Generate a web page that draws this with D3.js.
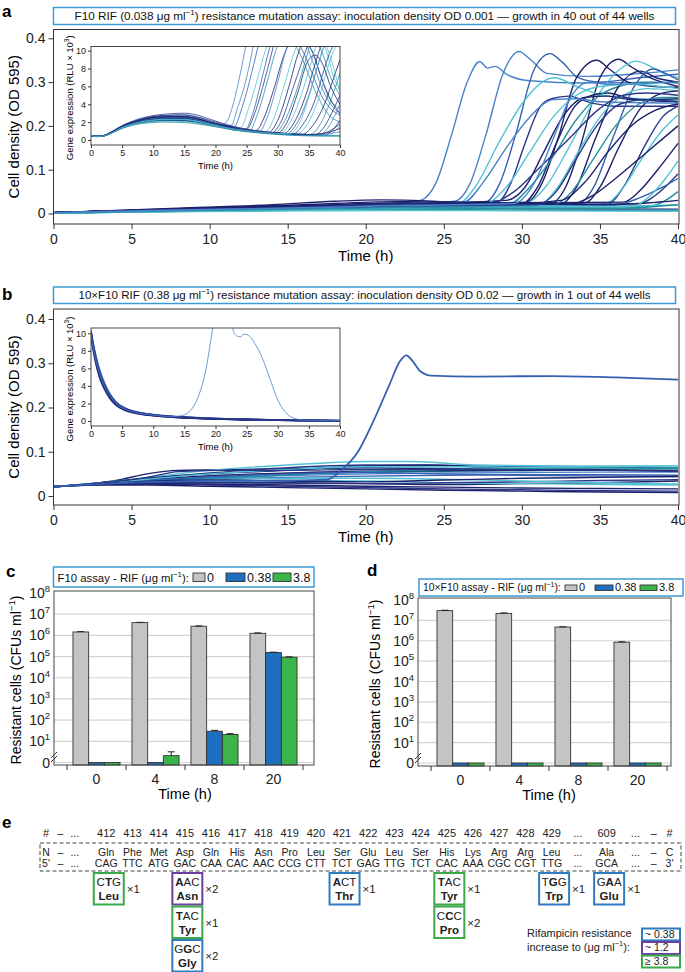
<!DOCTYPE html>
<html>
<head>
<meta charset="utf-8">
<script src="https://cdn.jsdelivr.net/npm/d3@7"></script>
<style>
  body { margin: 0; background: #fff; }
  svg { display: block; font-family: "Liberation Sans", Arial, sans-serif; }
</style>
</head>
<body>
<svg id="fig" width="685" height="972"></svg>
<script>
// ---------------- data ----------------
// well colours (index per well into palette)
const palette = ['#1c216c', '#2a3789', '#3560b0', '#4a82c8', '#52c2d4', '#26909f'];

// a: OD 595 for the F10 assay (t in h, OD)
const growthA = [
  [[0,.002],[8,.008],[16,.016],[22,.024],[23.5,.03],[24.5,.07],[25.5,.18],[26.5,.3],[27.3,.347],[27.8,.332],[28.3,.336],[29,.318],[30.5,.303],[34,.298],[40,.3]],
  [[0,.002],[8,.008],[16,.014],[22,.02],[25.7,.028],[26.7,.07],[27.7,.18],[28.8,.32],[29.8,.37],[30.6,.35],[31.6,.32],[34,.313],[37,.318],[40,.328]],
  [[0,.002],[8,.007],[16,.012],[22,.016],[27.6,.025],[28.6,.07],[29.6,.18],[30.8,.33],[31.8,.365],[32.6,.345],[33.6,.31],[35,.3],[37.5,.31],[40,.318]],
  [[0,.002],[8,.009],[16,.014],[22,.02],[30.3,.026],[31.3,.07],[32.3,.17],[33.5,.31],[34.8,.35],[35.6,.33],[36.8,.3],[38.5,.29],[40,.288]],
  [[0,.002],[8,.008],[16,.012],[22,.016],[31.8,.022],[32.8,.06],[33.8,.16],[35,.31],[36.2,.352],[37,.335],[38.2,.31],[40,.29]],
  [[0,.001],[8,.006],[16,.01],[22,.014],[30,.02],[31.5,.06],[33,.15],[34.5,.25],[36.3,.33],[37.3,.348],[38.4,.333],[39.2,.318],[40,.31]],
  [[0,.001],[8,.006],[16,.011],[22,.016],[25.8,.02],[27,.06],[28.5,.16],[30,.25],[31.3,.3],[32.1,.31],[33.5,.29],[35,.272],[37.5,.262],[40,.258]],
  [[0,.002],[8,.01],[16,.015],[22,.02],[28.5,.028],[29.3,.07],[30.2,.16],[31.2,.245],[31.9,.262],[33,.268],[34.5,.252],[36,.245],[40,.245]],
  [[0,.002],[8,.009],[16,.013],[22,.018],[30,.022],[31,.06],[32.2,.16],[33.4,.245],[34.5,.27],[35.5,.275],[37,.262],[40,.255]],
  [[0,.002],[8,.008],[16,.012],[22,.016],[29.2,.022],[30.5,.06],[32,.13],[33.4,.21],[34.8,.265],[36.2,.29],[38,.3],[40,.298]],
  [[0,.002],[8,.008],[16,.012],[22,.016],[32.5,.022],[33.5,.06],[34.7,.17],[36.2,.29],[37.6,.325],[38.6,.31],[40,.3]],
  [[0,.002],[8,.007],[16,.011],[22,.015],[33.5,.02],[34.6,.06],[35.8,.17],[37.2,.29],[38.4,.33],[39.2,.32],[40,.305]],
  [[0,.001],[8,.006],[16,.01],[22,.013],[31,.018],[32.3,.06],[33.6,.14],[35,.22],[36.5,.27],[38,.285],[40,.28]],
  [[0,.002],[8,.009],[16,.014],[22,.02],[34,.024],[35,.06],[36.2,.15],[37.6,.24],[39,.275],[40,.28]],
  [[0,.002],[8,.008],[16,.013],[22,.017],[35.5,.022],[36.5,.06],[37.8,.15],[39,.22],[40,.245]],
  [[0,.001],[8,.005],[16,.009],[22,.012],[35,.016],[36.3,.05],[37.6,.12],[39,.19],[40,.225]],
  [[0,.002],[8,.01],[16,.016],[22,.022],[36.5,.026],[37.5,.05],[38.7,.1],[40,.16]],
  [[0,.002],[8,.009],[16,.014],[22,.018],[37.5,.022],[38.5,.04],[40,.09]],
  [[0,.001],[8,.006],[16,.01],[22,.013],[38.2,.017],[39.2,.03],[40,.05]],
  [[0,.002],[8,.012],[14,.02],[18,.028],[21,.031],[23,.03],[26,.026],[29,.03],[30.2,.06],[31.4,.14],[32.6,.22],[34,.265],[35.5,.268],[37,.26],[40,.262]],
  [[0,.002],[8,.008],[16,.014],[22,.02],[26.3,.026],[27.5,.07],[29,.15],[30.5,.22],[32,.26],[33.5,.262],[35,.255],[40,.252]],
  [[0,.002],[8,.01],[16,.016],[22,.02],[28,.024],[29.5,.05],[31,.1],[33,.17],[35,.24],[36.5,.27],[38,.275],[40,.27]],
  [[0,.001],[8,.005],[16,.009],[22,.013],[27.5,.02],[29,.06],[30.5,.14],[32,.22],[33.5,.27],[35,.29],[37,.295],[40,.285]],
  [[0,.001],[8,.006],[16,.011],[22,.015],[32,.02],[33.2,.05],[34.5,.12],[36,.2],[37.5,.25],[39,.265],[40,.265]],
  [[0,.002],[8,.009],[16,.013],[22,.017],[33,.02],[34.5,.04],[36,.08],[38,.14],[40,.2]],
  [[0,.002],[8,.008],[16,.012],[22,.016],[36,.02],[37.5,.035],[39,.06],[40,.08]],
  [[0,.002],[8,.011],[16,.018],[22,.024],[30,.022],[35,.02],[38,.024],[40,.03]],
  [[0,.001],[8,.006],[16,.012],[22,.017],[30,.018],[35,.016],[40,.02]],
  [[0,.002],[8,.009],[16,.012],[22,.013],[30,.011],[40,.01]],
  [[0,.001],[8,.005],[16,.008],[22,.009],[30,.008],[40,.007]],
  [[0,.001],[8,.004],[16,.006],[22,.007],[30,.006],[40,.005]],
  [[0,.002],[8,.01],[16,.02],[22,.027],[26,.026],[30,.024],[32.5,.03],[34,.07],[35.5,.14],[37,.2],[38.5,.235],[40,.25]],
  [[0,.002],[8,.009],[16,.013],[22,.017],[31,.02],[32.2,.05],[33.4,.12],[34.8,.2],[36.3,.25],[38,.26],[40,.255]],
  [[0,.001],[8,.005],[16,.009],[22,.012],[37,.015],[38.2,.04],[39.2,.08],[40,.12]],
  [[0,.001],[8,.006],[16,.01],[22,.013],[30,.012],[36,.012],[40,.02]],
  [[0,.002],[8,.008],[16,.013],[22,.018],[29.5,.023],[30.8,.07],[32,.17],[33.2,.27],[34.3,.3],[35.5,.295],[40,.3]]
];
const shadeA = [3,3,2,0,0,4,4,1,0,5,0,2,4,0,1,4,0,1,5,0,3,1,4,5,0,2,0,4,1,5,4,0,1,4,5,3];

// a inset: gene expression (RLU x 10^3)
const exprA = [
  [[0,.5],[1,.4],[2,.48],[3.5,.95],[5,1.5],[7,1.95],[9,2.2],[12,2.35],[15,2.3],[17,2.1],[19,1.85],[21,1.65],[22,2.3],[23.2,5],[24.3,8.5],[25,11]],
  [[0,.5],[1,.4],[2,.47],[3.5,.9],[5,1.4],[7,1.85],[9,2.1],[12,2.2],[15,2.15],[17,2],[19,1.75],[21,1.55],[22.5,1.6],[23.5,3.5],[25,7],[26.2,11]],
  [[0,.52],[1,.4],[2,.5],[3.5,1],[5,1.6],[7,2.1],[9,2.4],[12,2.6],[15,2.6],[17,2.4],[19,2],[21,1.7],[23,1.5],[24.2,3.5],[25.8,7.5],[27,11]],
  [[0,.5],[1,.38],[2,.45],[3.5,.88],[5,1.4],[7,1.9],[9,2.25],[12,2.45],[15,2.4],[17,2.2],[19,1.9],[21,1.6],[23,1.35],[24,1.35],[25.3,3.5],[26.8,7],[28,10],[29,11.5]],
  [[0,.5],[1,.4],[2,.48],[3.5,.95],[5,1.55],[7,2.1],[9,2.5],[12,2.75],[15,2.8],[17,2.6],[19,2.2],[21,1.8],[23,1.45],[25,1.2],[26.3,3],[28,7],[29.3,10.5]],
  [[0,.5],[1,.39],[2,.46],[3.5,.9],[5,1.45],[7,1.9],[9,2.2],[12,2.35],[15,2.3],[17,2.15],[19,1.85],[21,1.55],[23,1.3],[25.5,1.1],[26.7,2.8],[28.3,6.5],[29.7,10],[31,12],[32.5,11],[34,9],[36,5.5],[38,3],[40,2]],
  [[0,.5],[1,.4],[2,.47],[3.5,.9],[5,1.45],[7,1.95],[9,2.3],[12,2.5],[15,2.5],[17,2.3],[19,1.9],[21,1.6],[23,1.3],[26.5,1.05],[27.8,2.5],[29.5,6],[31,9.5],[32,11]],
  [[0,.5],[1,.4],[2,.46],[3.5,.88],[5,1.4],[7,1.85],[9,2.1],[12,2.25],[15,2.2],[17,2.05],[19,1.8],[21,1.5],[23,1.25],[27,.95],[28.3,2.5],[30,6.5],[31.3,10],[32.5,12],[34,11.5],[35.5,9],[37,6],[38.5,4],[40,3]],
  [[0,.51],[1,.4],[2,.48],[3.5,.95],[5,1.5],[7,2.05],[9,2.45],[12,2.65],[15,2.65],[17,2.4],[19,2],[21,1.65],[23,1.35],[28,.9],[29.3,2.3],[31,6],[32.5,9.5],[33.5,11],[35,10.5],[36.5,8],[38,5],[40,3.5]],
  [[0,.5],[1,.38],[2,.45],[3.5,.85],[5,1.35],[7,1.8],[9,2.05],[12,2.2],[15,2.2],[17,2.05],[19,1.75],[21,1.45],[23,1.2],[28.5,.85],[30,2.2],[31.8,6],[33.2,9.5],[34.2,11],[35.5,10],[37,7],[38.5,4.5],[40,3]],
  [[0,.5],[1,.4],[2,.47],[3.5,.92],[5,1.5],[7,2],[9,2.35],[12,2.55],[15,2.55],[17,2.35],[19,1.95],[21,1.6],[23,1.3],[29,.8],[30.5,2],[32.3,5.5],[34,9],[35,11]],
  [[0,.5],[1,.4],[2,.46],[3.5,.9],[5,1.45],[7,1.9],[9,2.2],[12,2.4],[15,2.4],[17,2.2],[19,1.85],[21,1.55],[23,1.25],[29.5,.8],[31,2],[33,5.5],[34.5,9],[35.5,11],[37,10],[38.5,7],[40,5]],
  [[0,.5],[1,.39],[2,.46],[3.5,.88],[5,1.4],[7,1.85],[9,2.15],[12,2.3],[15,2.25],[17,2.1],[19,1.8],[21,1.5],[23,1.2],[30.5,.75],[32,2],[34,5.5],[35.5,9],[36.5,11],[37.5,10.5],[39,7],[40,5.5]],
  [[0,.5],[1,.4],[2,.48],[3.5,.93],[5,1.5],[7,2.05],[9,2.4],[12,2.6],[15,2.6],[17,2.4],[19,2],[21,1.65],[23,1.35],[31,.75],[32.5,1.8],[34.5,5],[36,8.5],[37,10.5],[38,11]],
  [[0,.5],[1,.4],[2,.46],[3.5,.9],[5,1.4],[7,1.85],[9,2.1],[12,2.3],[15,2.3],[17,2.1],[19,1.8],[21,1.5],[23,1.2],[31.5,.7],[33,1.8],[35,5],[36.5,8.5],[37.5,10.5],[38.5,11]],
  [[0,.5],[1,.38],[2,.45],[3.5,.86],[5,1.38],[7,1.82],[9,2.1],[12,2.25],[15,2.2],[17,2.05],[19,1.75],[21,1.45],[23,1.15],[32.5,.7],[34,1.7],[36,4.5],[37.5,8],[38.5,10],[39.5,11]],
  [[0,.5],[1,.4],[2,.47],[3.5,.9],[5,1.45],[7,1.95],[9,2.3],[12,2.45],[15,2.45],[17,2.25],[19,1.9],[21,1.55],[23,1.25],[33,.65],[34.5,1.5],[36.5,4.5],[38,8],[39,10],[40,11]],
  [[0,.5],[1,.4],[2,.47],[3.5,.92],[5,1.5],[7,2],[9,2.35],[12,2.55],[15,2.6],[17,2.4],[19,2],[21,1.65],[23,1.3],[34,.65],[35.5,1.5],[37.5,4],[39,7],[40,9]],
  [[0,.5],[1,.39],[2,.46],[3.5,.88],[5,1.42],[7,1.88],[9,2.18],[12,2.35],[15,2.35],[17,2.15],[19,1.82],[21,1.5],[23,1.2],[35,.6],[36.5,1.4],[38,3.5],[39.3,6],[40,7.5]],
  [[0,.5],[1,.4],[2,.48],[3.5,.95],[5,1.55],[7,2.1],[9,2.5],[12,2.75],[15,2.8],[17,2.55],[19,2.1],[21,1.7],[23,1.4],[36,.6],[37.5,1.5],[39,3.5],[40,5]],
  [[0,.5],[1,.4],[2,.46],[3.5,.9],[5,1.45],[7,1.92],[9,2.25],[12,2.45],[15,2.45],[17,2.25],[19,1.9],[21,1.55],[23,1.25],[36.5,.55],[38,1.3],[39.2,2.8],[40,4]],
  [[0,.5],[1,.38],[2,.44],[3.5,.84],[5,1.35],[7,1.78],[9,2.05],[12,2.2],[15,2.15],[17,2],[19,1.7],[21,1.42],[23,1.12],[37.5,.55],[38.8,1.1],[40,2.2]],
  [[0,.5],[1,.4],[2,.47],[3.5,.9],[5,1.45],[7,1.9],[9,2.2],[12,2.35],[15,2.3],[17,2.15],[19,1.85],[21,1.5],[23,1.2],[38,.5],[39,.9],[40,1.6]],
  [[0,.5],[1,.4],[2,.47],[3.5,.9],[5,1.45],[7,1.95],[9,2.3],[12,2.5],[15,2.5],[17,2.3],[19,1.95],[21,1.6],[23,1.35],[24.8,1.2],[26,3],[27.5,7],[28.8,10.5],[30,12.5],[32,12],[34,10],[35.5,7.5],[37,5],[38.5,3.5],[40,2.8]],
  [[0,.5],[1,.4],[2,.46],[3.5,.88],[5,1.4],[7,1.85],[9,2.1],[12,2.25],[15,2.25],[17,2.05],[19,1.75],[21,1.45],[23,1.2],[26,.95],[30,.7],[34,.55],[37,.5],[40,.5]],
  [[0,.5],[1,.39],[2,.45],[3.5,.86],[5,1.35],[7,1.78],[9,2],[12,2.1],[15,2.05],[17,1.9],[19,1.65],[21,1.4],[23,1.15],[26,.9],[30,.65],[34,.5],[37,.45],[40,.42]],
  [[0,.5],[1,.4],[2,.47],[3.5,.92],[5,1.5],[7,2],[9,2.4],[12,2.6],[15,2.6],[17,2.4],[19,2],[21,1.65],[23,1.35],[26,1.05],[30,.75],[34,.6],[37,.7],[40,1.3]],
  [[0,.5],[1,.4],[2,.46],[3.5,.88],[5,1.4],[7,1.85],[9,2.15],[12,2.3],[15,2.3],[17,2.1],[19,1.8],[21,1.5],[23,1.25],[26,.95],[30,.7],[34,.55],[37,.6],[40,.95]],
  [[0,.52],[1,.41],[2,.5],[3.5,1],[5,1.62],[7,2.2],[9,2.6],[12,2.9],[15,3],[17,2.8],[19,2.35],[21,1.9],[23,1.5],[26,1.1],[30,.8],[33,.65],[36,.6],[38,.9],[40,1.8]],
  [[0,.5],[1,.38],[2,.44],[3.5,.82],[5,1.3],[7,1.7],[9,1.9],[12,2],[15,1.95],[17,1.8],[19,1.6],[21,1.35],[23,1.1],[26,.85],[30,.62],[34,.48],[37,.45],[40,.45]],
  [[0,.5],[1,.4],[2,.46],[3.5,.9],[5,1.45],[7,1.9],[9,2.2],[12,2.4],[15,2.4],[17,2.2],[19,1.85],[21,1.55],[23,1.25],[30,.78],[31.5,2],[33.3,5.5],[34.8,8.8],[36,9.5],[37.2,8.5],[38.5,6],[40,4]],
  [[0,.5],[1,.39],[2,.46],[3.5,.88],[5,1.42],[7,1.86],[9,2.16],[12,2.32],[15,2.3],[17,2.12],[19,1.82],[21,1.5],[23,1.22],[32,.72],[33.5,1.9],[35.3,5.5],[36.7,9],[37.6,10.5],[38.6,9],[39.4,7],[40,5.5]]
];
const shadeExprA = [3,3,2,4,1,5,0,3,4,0,1,5,4,0,2,1,4,0,5,1,3,0,4,2,5,4,0,3,1,5,0,4];

// b: OD 595 for the 10xF10 assay
const growthB = [
  [[0,.021],[2,.026],[4,.035],[6,.05],[8,.058],[12,.06],[16,.062],[20,.064],[25,.062],[30,.06],[35,.058],[40,.058]],
  [[0,.021],[3,.029],[6,.04],[10,.052],[15,.064],[20,.07],[25,.069],[30,.066],[35,.065],[40,.064]],
  [[0,.021],[3,.03],[6,.042],[10,.058],[15,.07],[20,.078],[23,.078],[27,.07],[33,.068],[40,.068]],
  [[0,.021],[3,.028],[6,.036],[10,.045],[15,.05],[20,.054],[25,.056],[30,.057],[35,.06],[40,.062]],
  [[0,.021],[3,.03],[6,.04],[10,.05],[15,.058],[20,.068],[24,.07],[28,.064],[34,.06],[40,.055]],
  [[0,.021],[3,.027],[6,.032],[10,.038],[15,.042],[20,.045],[25,.047],[30,.048],[35,.048],[40,.047]],
  [[0,.021],[3,.027],[6,.03],[10,.031],[15,.03],[20,.028],[25,.026],[30,.028],[35,.03],[40,.034]],
  [[0,.021],[3,.026],[6,.027],[10,.025],[15,.022],[20,.019],[25,.016],[30,.014],[35,.012],[40,.011]],
  [[0,.021],[3,.025],[6,.025],[10,.022],[15,.019],[20,.016],[25,.013],[30,.011],[35,.009],[40,.008]],
  [[0,.021],[3,.027],[6,.031],[10,.034],[15,.035],[20,.034],[25,.03],[30,.028],[35,.026],[40,.025]],
  [[0,.021],[3,.028],[6,.034],[10,.041],[15,.046],[20,.05],[25,.052],[30,.053],[35,.054],[40,.054]],
  [[0,.021],[3,.028],[6,.037],[10,.046],[15,.052],[20,.056],[25,.057],[30,.058],[35,.058],[40,.057]],
  [[0,.021],[3,.027],[6,.033],[10,.04],[15,.048],[20,.055],[25,.06],[30,.062],[35,.063],[40,.064]],
  [[0,.021],[3,.027],[6,.03],[10,.03],[15,.029],[20,.028],[25,.03],[30,.032],[35,.035],[40,.037]],
  [[0,.021],[3,.027],[6,.032],[10,.037],[15,.04],[20,.04],[25,.038],[30,.034],[35,.03],[40,.027]],
  [[0,.021],[3,.026],[6,.028],[10,.027],[15,.025],[20,.022],[25,.02],[30,.018],[35,.017],[40,.016]],
  [[0,.021],[3,.028],[6,.035],[10,.043],[15,.05],[20,.053],[25,.05],[30,.047],[35,.045],[40,.044]],
  [[0,.021],[3,.029],[6,.038],[10,.05],[15,.06],[20,.066],[25,.066],[30,.065],[35,.066],[40,.068]],
  [[0,.021],[3,.029],[6,.042],[8,.055],[11,.058],[15,.058],[20,.06],[25,.06],[30,.059],[35,.058],[40,.058]],
  [[0,.021],[3,.028],[6,.033],[10,.036],[15,.034],[20,.032],[25,.036],[30,.04],[35,.042],[40,.044]],
  // the single resistant well
  [[0,.021],[5,.03],[10,.034],[15,.035],[17.5,.037],[18.5,.06],[19.5,.1],[20.5,.17],[21.5,.25],[22.2,.305],[22.6,.318],[23,.305],[23.5,.282],[24.2,.272],[27,.27],[32,.271],[36,.268],[40,.263]]
];
const shadeB = [0,1,4,5,0,2,0,1,0,4,3,0,5,1,4,0,2,4,1,0,2];

// b inset: gene expression
const exprB = [
  [[0,10.3],[.5,8.2],[1,6.6],[1.5,5.4],[2,4.4],[3,3],[4,2.1],[5,1.55],[6,1.25],[8,.9],[10,.7],[13,.5],[16,.38],[20,.27],[25,.18],[30,.11],[35,.06],[40,.03]],
  [[0,10],[.5,7.9],[1,6.3],[1.5,5.1],[2,4.2],[3,2.85],[4,2],[5,1.5],[6,1.2],[8,.85],[10,.66],[13,.48],[16,.36],[20,.25],[25,.16],[30,.1],[35,.05],[40,.03]],
  [[0,9.8],[.5,7.7],[1,6.1],[1.5,4.9],[2,4],[3,2.7],[4,1.9],[5,1.42],[6,1.13],[8,.8],[10,.62],[13,.45],[16,.34],[20,.23],[25,.15],[30,.09],[35,.05],[40,.02]],
  [[0,10.1],[.5,8.1],[1,6.5],[1.5,5.3],[2,4.35],[3,2.95],[4,2.08],[5,1.57],[6,1.27],[8,.92],[10,.72],[13,.52],[16,.4],[20,.28],[25,.19],[30,.12],[35,.07],[40,.04]],
  [[0,9.6],[.5,7.5],[1,5.9],[1.5,4.7],[2,3.85],[3,2.6],[4,1.82],[5,1.36],[6,1.08],[8,.77],[10,.6],[13,.44],[16,.33],[20,.22],[25,.14],[30,.08],[35,.04],[40,.02]],
  [[0,10.2],[.5,8.3],[1,6.8],[1.5,5.6],[2,4.6],[3,3.15],[4,2.2],[5,1.65],[6,1.32],[8,.95],[10,.74],[13,.54],[16,.41],[20,.29],[25,.2],[30,.12],[35,.07],[40,.04]],
  [[0,9.9],[.5,7.8],[1,6.2],[1.5,5],[2,4.1],[3,2.78],[4,1.95],[5,1.46],[6,1.16],[8,.83],[10,.64],[13,.47],[16,.35],[20,.24],[25,.16],[30,.09],[35,.05],[40,.03]],
  [[0,10],[.5,8],[1,6.4],[1.5,5.2],[2,4.25],[3,2.9],[4,2.03],[5,1.52],[6,1.22],[8,.87],[10,.68],[13,.5],[16,.37],[20,.26],[25,.17],[30,.1],[35,.06],[40,.03]],
  // the resistant well
  [[0,10],[.5,7.8],[1,6.3],[2,4.2],[3,2.9],[4,2],[5,1.5],[7,1],[10,.68],[13,.5],[14.5,.6],[15.5,.9],[16.5,1.7],[17.5,3.3],[18.5,6],[19.2,9],[19.8,11.5],[20.6,13],[21.8,13.5],[22.5,12],[22.9,10.2],[23.4,9.7],[24,9.6],[24.6,9.9],[25.2,9.8],[25.8,9.4],[26.5,8.6],[27,8],[27.5,7.2],[28,6.3],[28.5,5.3],[29,4.3],[29.5,3.3],[30,2.4],[30.7,1.5],[31.5,.8],[32.5,.35],[34,.12],[36,.05],[40,.03]]
];
const shadeExprB = [0,1,2,0,1,2,0,1,3];

// c, d: resistant cells (CFUs/ml)
const timepoints = ['0', '4', '8', '20'];
const rifConc = ['0', '0.38', '3.8'];
const cfuF10Rif0 = [1.45e6, 4.0e6, 2.7e6, 1.25e6];
const cfuF10Rif038 = [0, 0, 30, 1.55e5];
const cfuF10Rif38 = [0, 2.1, 21, 9.3e4];
const errF10Rif0 = [0.06e6, 0.12e6, 0.1e6, 0.06e6];
const errF10Rif038 = [0, 0, 3, 0.06e5];
const errF10Rif38 = [0, 1.1, 2, 0.04e5];
const cfu10xRif0 = [3.0e7, 2.2e7, 4.7e6, 8.5e5];
const cfu10xRif038 = [0, 0, 0, 0];
const cfu10xRif38 = [0, 0, 0, 0];
const err10xRif0 = [0.15e7, 0.12e7, 0.15e6, 0.4e5];
const logTicks = [1, 1e1, 1e2, 1e3, 1e4, 1e5, 1e6, 1e7, 1e8];

// e: rpoB sequence
const residueNumbers = ['#','–','...','412','413','414','415','416','417','418','419','420','421','422','423','424','425','426','427','428','429','...','609','...','–','#'];
const aminoAcids = ['N','–','...','Gln','Phe','Met','Asp','Gln','His','Asn','Pro','Leu','Ser','Glu','Leu','Ser','His','Lys','Arg','Arg','Leu','...','Ala','...','–','C'];
const codons = ['5′','–','...','CAG','TTC','ATG','GAC','CAA','CAC','AAC','CCG','CTT','TCT','GAG','TTG','TCT','CAC','AAA','CGC','CGT','TTG','...','GCA','...','–','3′'];
const mutPosition = ['412','415','415','415','421','425','425','429','609'];
const mutCodon = ['CTG','AAC','TAC','GGC','ACT','TAC','CCC','TGG','GAA'];
const mutBase = [1,0,0,1,0,0,1,1,1];
const mutAmino = ['Leu','Asn','Tyr','Gly','Thr','Tyr','Pro','Trp','Glu'];
const mutCount = [1,2,1,2,1,1,2,1,1];
const mutLevel = ['3.8','1.2','3.8','0.38','0.38','3.8','3.8','0.38','0.38'];
const mutRow = [0,0,1,2,0,0,1,0,0];
const resistanceLevels = ['0.38','1.2','3.8'];
const resistanceLabels = ['~ 0.38','~ 1.2','≥ 3.8'];

// ---------------- drawing ----------------
const svg = d3.select('#fig');
const NARROW = '"Liberation Sans Narrow", "Liberation Sans", Arial, sans-serif';
const boxBlue = '#3d9ad6';
const barFill = ['#c4c4c4', '#1f6fc0', '#3bb54a'];
const levelColor = d3.scaleOrdinal().domain(resistanceLevels).range(['#2f7cc2', '#6b3fa0', '#3aaa48']);

// write a text made of normal and superscript pieces
function rich(sel, parts) {
  parts.forEach(p => {
    if (p[1] === 'sup') {
      sel.append('tspan').attr('font-size', '0.68em').attr('dy', '-0.62em').text(p[0]);
    } else {
      const t = sel.append('tspan').text(p[0]);
      if (p[1] === 'down') t.attr('dy', '0.42em');
    }
  });
  return sel;
}

// panel letters
[['a', 2, 17], ['b', 2, 300], ['c', 6, 577], ['d', 367, 576], ['e', 2, 828]].forEach(d => {
  svg.append('text').attr('x', d[1]).attr('y', d[2]).attr('font-size', 17)
    .attr('font-weight', 'bold').text(d[0]);
});

function titleBox(x0, x1, y0, y1, parts, len) {
  svg.append('rect').attr('x', x0).attr('y', y0).attr('width', x1 - x0).attr('height', y1 - y0)
    .attr('fill', '#fff').attr('stroke', boxBlue).attr('stroke-width', 1.5);
  const t = svg.append('text').attr('x', (x0 + x1) / 2).attr('y', y1 - 4.5)
    .attr('text-anchor', 'middle').attr('font-size', 11.5).attr('font-family', NARROW)
    .attr('fill', '#111');
  rich(t, parts);
  t.attr('textLength', len).attr('lengthAdjust', 'spacingAndGlyphs');
}

function linePanel(cfg) {
  const x = d3.scaleLinear().domain([0, 40]).range([cfg.left, cfg.x40]);
  const y = d3.scaleLinear().domain([0, 0.4]).range([cfg.y0, cfg.y4]);
  svg.append('clipPath').attr('id', cfg.id).append('rect')
    .attr('x', cfg.left).attr('y', cfg.top).attr('width', cfg.right - cfg.left).attr('height', cfg.bottom - cfg.top);
  const line = d3.line().x(d => x(d[0])).y(d => y(d[1])).curve(d3.curveMonotoneX);
  const g = svg.append('g');
  g.append('g').attr('clip-path', `url(#${cfg.id})`)
    .selectAll('path').data(cfg.wells).join('path')
    .attr('d', line).attr('fill', 'none')
    .attr('stroke', (d, i) => palette[cfg.shades[i]])
    .attr('stroke-width', (d, i) => i === cfg.bold ? 1.8 : 1.4);
  g.append('rect').attr('x', cfg.left).attr('y', cfg.top).attr('width', cfg.right - cfg.left)
    .attr('height', cfg.bottom - cfg.top).attr('fill', 'none').attr('stroke', '#333').attr('stroke-width', 1);

  const xa = g.append('g').attr('transform', `translate(0,${cfg.bottom})`)
    .call(d3.axisBottom(x).tickValues(d3.range(0, 41, 5)).tickSize(5).tickPadding(5));
  const ya = g.append('g').attr('transform', `translate(${cfg.left},0)`)
    .call(d3.axisLeft(y).tickValues([0, .1, .2, .3, .4]).tickSize(5).tickPadding(3)
      .tickFormat(d => d === 0 ? '0' : d3.format('.1f')(d)));
  [xa, ya].forEach(a => {
    a.select('.domain').remove();
    a.selectAll('text').attr('font-size', 14).attr('font-family', '"Liberation Sans", Arial').attr('fill', '#222');
    a.selectAll('line').attr('stroke', '#333');
  });
  g.append('text').attr('x', (cfg.left + cfg.x40) / 2).attr('y', cfg.bottom + 37)
    .attr('text-anchor', 'middle').attr('font-size', 15).text('Time (h)');
  g.append('text').attr('transform', `translate(19,${(cfg.top + cfg.bottom) / 2}) rotate(-90)`)
    .attr('text-anchor', 'middle').attr('font-size', 15).text('Cell density (OD 595)');
  return g;
}

function inset(cfg) {
  const x = d3.scaleLinear().domain([0, 40]).range([cfg.left, cfg.right]);
  const y = d3.scaleLinear().domain([0, 10]).range([cfg.y0, cfg.y10]);
  const g = svg.append('g');
  g.append('rect').attr('x', cfg.left).attr('y', cfg.top).attr('width', cfg.right - cfg.left)
    .attr('height', cfg.bottom - cfg.top).attr('fill', '#fff');
  svg.append('clipPath').attr('id', cfg.id).append('rect')
    .attr('x', cfg.left).attr('y', cfg.top).attr('width', cfg.right - cfg.left).attr('height', cfg.bottom - cfg.top);
  const line = d3.line().x(d => x(d[0])).y(d => y(d[1])).curve(d3.curveMonotoneX);
  g.append('g').attr('clip-path', `url(#${cfg.id})`)
    .selectAll('path').data(cfg.wells).join('path')
    .attr('d', line).attr('fill', 'none')
    .attr('stroke', (d, i) => palette[cfg.shades[i]])
    .attr('stroke-width', (d, i) => i === cfg.thin ? 0.8 : cfg.width);
  g.append('rect').attr('x', cfg.left).attr('y', cfg.top).attr('width', cfg.right - cfg.left)
    .attr('height', cfg.bottom - cfg.top).attr('fill', 'none').attr('stroke', '#333').attr('stroke-width', 0.9);
  const xa = g.append('g').attr('transform', `translate(0,${cfg.bottom})`)
    .call(d3.axisBottom(x).tickValues(d3.range(0, 41, 5)).tickSize(3).tickPadding(2));
  const ya = g.append('g').attr('transform', `translate(${cfg.left},0)`)
    .call(d3.axisLeft(y).tickValues(d3.range(0, 11, 2)).tickSize(3).tickPadding(2));
  [xa, ya].forEach(a => {
    a.select('.domain').remove();
    a.selectAll('text').attr('font-size', 9).attr('font-family', '"Liberation Sans", Arial').attr('fill', '#222');
    a.selectAll('line').attr('stroke', '#333');
  });
  g.append('text').attr('x', (cfg.left + cfg.right) / 2).attr('y', cfg.bottom + 24)
    .attr('text-anchor', 'middle').attr('font-size', 9.5).attr('font-family', NARROW).text('Time (h)');
  const yl = g.append('text').attr('transform', `translate(${cfg.left - 18},${(cfg.top + cfg.bottom) / 2 + 2}) rotate(-90)`)
    .attr('text-anchor', 'middle').attr('font-size', 9.5).attr('font-family', NARROW);
  rich(yl, [['Gene expression (RLU × 10'], ['3', 'sup'], [')', 'down']]);
}

// ---- panel a
titleBox(53.5, 675.5, 7.5, 24.5,
  [['F10 RIF (0.038 μg ml'], ['−1', 'sup'], [') resistance mutation assay: inoculation density OD 0.001 — growth in 40 out of 44 wells', 'down']], 580);
linePanel({ id: 'clipA', left: 53.5, right: 679, x40: 678, top: 29.5, bottom: 224, y0: 213.5, y4: 38.3,
  wells: growthA, shades: shadeA, bold: -1 });
inset({ id: 'clipIA', left: 91, right: 340, top: 46.5, bottom: 145, y0: 140, y10: 50.7,
  wells: exprA, shades: shadeExprA, width: 0.8, thin: -1 });

// ---- panel b
titleBox(53.5, 675.5, 287, 303.5,
  [['10×F10 RIF (0.38 μg ml'], ['−1', 'sup'], [') resistance mutation assay: inoculation density OD 0.02 — growth in 1 out of 44 wells', 'down']], 572);
linePanel({ id: 'clipB', left: 53.5, right: 679, x40: 678, top: 309, bottom: 505, y0: 496, y4: 319,
  wells: growthB, shades: shadeB, bold: growthB.length - 1 });
inset({ id: 'clipIB', left: 91, right: 340, top: 328, bottom: 426, y0: 421, y10: 333.3,
  wells: exprB, shades: shadeExprB, width: 1.6, thin: exprB.length - 1 });

// ---- bar panels
function barPanel(cfg) {
  const g = svg.append('g');
  const x = d3.scaleBand().domain(timepoints).range(cfg.band);
  const xi = d3.scaleBand().domain(rifConc).range([0, x.bandwidth()]).paddingOuter(0.38);
  const y = d3.scaleLog().domain([1, 1e8]).range([cfg.y1, cfg.y8]);
  const yv = v => v >= 1 ? y(v) : y(1);

  g.selectAll('line.grid').data(logTicks.slice(0, -1)).join('line')
    .attr('x1', cfg.left).attr('x2', cfg.right).attr('y1', d => y(d)).attr('y2', d => y(d))
    .attr('stroke', '#d4d4d4').attr('stroke-width', 1.2);

  cfg.series.forEach((vals, s) => {
    g.selectAll(null).data(vals).join('rect')
      .attr('x', (d, i) => x(timepoints[i]) + xi(rifConc[s]))
      .attr('width', xi.bandwidth())
      .attr('y', d => yv(d))
      .attr('height', d => cfg.bottom - yv(d))
      .attr('fill', barFill[s]).attr('stroke', '#333').attr('stroke-width', 0.9);
    const errs = cfg.errors[s];
    if (!errs) return;
    vals.forEach((v, i) => {
      if (!(v > 0 && errs[i] > 0)) return;
      const cx = x(timepoints[i]) + xi(rifConc[s]) + xi.bandwidth() / 2;
      const yTop = yv(v + errs[i]);
      g.append('line').attr('x1', cx).attr('x2', cx).attr('y1', yv(v)).attr('y2', yTop).attr('stroke', '#222');
      g.append('line').attr('x1', cx - 3.5).attr('x2', cx + 3.5).attr('y1', yTop).attr('y2', yTop).attr('stroke', '#222');
    });
  });

  g.append('rect').attr('x', cfg.left).attr('y', cfg.top).attr('width', cfg.right - cfg.left)
    .attr('height', cfg.bottom - cfg.top).attr('fill', 'none').attr('stroke', '#444').attr('stroke-width', 1);

  // y labels
  logTicks.forEach(v => {
    const t = g.append('text').attr('x', cfg.left - 4).attr('y', y(v) + 5)
      .attr('text-anchor', 'end').attr('font-size', 14).attr('fill', '#222');
    if (v === 1) t.text('0');
    else rich(t, [['10'], [String(Math.round(Math.log10(v))), 'sup']]);
  });
  // axis break
  [0, 4].forEach(o => {
    g.append('line').attr('x1', cfg.left - 3).attr('x2', cfg.left + 3)
      .attr('y1', cfg.bottom - 6 - o + 3).attr('y2', cfg.bottom - 6 - o - 3).attr('stroke', '#333');
  });
  // x ticks at category boundaries
  const edges = timepoints.map(t => x(t)).concat([cfg.band[1]]);
  g.selectAll(null).data(edges).join('line')
    .attr('x1', d => d).attr('x2', d => d).attr('y1', cfg.bottom).attr('y2', cfg.bottom + 5)
    .attr('stroke', '#333');
  g.selectAll(null).data(timepoints).join('text')
    .attr('x', d => x(d) + x.bandwidth() / 2).attr('y', cfg.bottom + 19)
    .attr('text-anchor', 'middle').attr('font-size', 14).attr('fill', '#222').text(d => d);
  g.append('text').attr('x', (cfg.band[0] + cfg.band[1]) / 2).attr('y', cfg.bottom + 34)
    .attr('text-anchor', 'middle').attr('font-size', 14.5).text('Time (h)');
  const yl = g.append('text').attr('transform', `translate(${cfg.ylabelX},${(cfg.top + cfg.bottom) / 2 + 2}) rotate(-90)`)
    .attr('text-anchor', 'middle').attr('font-size', 14);
  rich(yl, [['Resistant cells (CFUs ml'], ['−1', 'sup'], [')', 'down']]);

  // legend: shrink the title font until it fits before the first swatch
  const L = cfg.legend;
  g.append('rect').attr('x', L.x0).attr('y', L.y0).attr('width', L.x1 - L.x0).attr('height', L.y1 - L.y0)
    .attr('fill', '#fff').attr('stroke', boxBlue).attr('stroke-width', 1.5);
  const lt = g.append('text').attr('x', L.x0 + 4).attr('y', L.y1 - 5).attr('font-size', L.fs).attr('fill', '#111');
  rich(lt, [[L.title + ' (μg ml'], ['−1', 'sup'], ['):', 'down']]);
  const room = L.sw[0] - 4 - (L.x0 + 4);
  const natural = lt.node().getComputedTextLength();
  if (natural > room) lt.attr('font-size', L.fs * room / natural);
  rifConc.forEach((c, i) => {
    g.append('rect').attr('x', L.sw[i]).attr('y', L.y0 + 6).attr('width', L.swW[i]).attr('height', L.y1 - L.y0 - 11.5)
      .attr('fill', barFill[i]).attr('stroke', '#333').attr('stroke-width', 0.9);
    g.append('text').attr('x', L.sw[i] + L.swW[i] + 2).attr('y', L.y1 - 5).attr('font-size', L.fs)
      .attr('fill', '#111').text(c);
  });
}

barPanel({ left: 54, right: 314, top: 591, bottom: 765, band: [67, 303], y1: 762.5, y8: 593,
  series: [cfuF10Rif0, cfuF10Rif038, cfuF10Rif38], errors: [errF10Rif0, errF10Rif038, errF10Rif38], ylabelX: 21,
  legend: { x0: 53.5, x1: 314, y0: 567, y1: 587, fs: 12.5, title: 'F10 assay - RIF',
    sw: [193, 226, 273], swW: [12, 19, 18] } });
barPanel({ left: 418, right: 671, top: 598, bottom: 766, band: [431, 667], y1: 763, y8: 600,
  series: [cfu10xRif0, cfu10xRif038, cfu10xRif38], errors: [err10xRif0, null, null], ylabelX: 380,
  legend: { x0: 419, x1: 683, y0: 579, y1: 596, fs: 11, title: '10×F10 assay - RIF',
    sw: [565, 595, 640], swW: [12, 18, 17] } });

// ---- panel e
const columnSlots = [0, 0.55, 1.1, 2.3, 3.3, 4.3, 5.3, 6.3, 7.3, 8.3, 9.3, 10.3, 11.3, 12.3, 13.3, 14.3, 15.3,
  16.3, 17.3, 18.3, 19.3, 20.3, 21.4, 22.5, 23.2, 23.8];
const colX = d3.scaleLinear().domain([0, 23.8]).range([46, 669.5]);
const eg = svg.append('g').attr('font-family', NARROW).attr('fill', '#222');
[[residueNumbers, 837, 11, 'normal'], [aminoAcids, 855.5, 10.5, 'normal'], [codons, 866.5, 10.5, 'normal']]
  .forEach(([row, yy, fs, fw]) => {
    eg.selectAll(null).data(row).join('text')
      .attr('x', (d, i) => colX(columnSlots[i])).attr('y', yy).attr('text-anchor', 'middle')
      .attr('font-size', fs).attr('font-weight', fw).text(d => d);
  });
eg.append('rect').attr('x', 40).attr('y', 843).attr('width', 641).attr('height', 28)
  .attr('fill', 'none').attr('stroke', '#444').attr('stroke-width', 1).attr('stroke-dasharray', '4 2.5');

const rowY = d3.scaleLinear().domain([0, 1]).range([873, 906.5]);
mutCodon.forEach((cod, i) => {
  const cx = colX(columnSlots[residueNumbers.indexOf(mutPosition[i])]) + 2.5;
  const y0 = rowY(mutRow[i]);
  eg.append('rect').attr('x', cx - 15).attr('y', y0).attr('width', 30).attr('height', 31.5)
    .attr('fill', '#fff').attr('stroke', levelColor(mutLevel[i])).attr('stroke-width', 2);
  const t = eg.append('text').attr('x', cx).attr('y', y0 + 13).attr('text-anchor', 'middle').attr('font-size', 11.5);
  cod.split('').forEach((ch, k) => t.append('tspan').attr('font-weight', k === mutBase[i] ? 'bold' : 'normal').text(ch));
  eg.append('text').attr('x', cx).attr('y', y0 + 27).attr('text-anchor', 'middle').attr('font-size', 11.5)
    .attr('font-weight', 'bold').text(mutAmino[i]);
  eg.append('text').attr('x', cx + 18).attr('y', y0 + 20).attr('font-size', 11.5).text('×' + mutCount[i]);
});

// resistance legend
eg.append('text').attr('x', 527).attr('y', 937).attr('font-size', 11).text('Rifampicin resistance');
const il = eg.append('text').attr('x', 527).attr('y', 951).attr('font-size', 11);
rich(il, [['increase to (μg ml'], ['−1', 'sup'], ['):', 'down']]);
const legY = d3.scaleBand().domain(resistanceLevels).range([928.5, 967.5]).paddingInner(0.12);
resistanceLevels.forEach((lv, i) => {
  eg.append('rect').attr('x', 642).attr('y', legY(lv)).attr('width', 38).attr('height', legY.bandwidth())
    .attr('fill', '#fff').attr('stroke', levelColor(lv)).attr('stroke-width', 2);
  eg.append('text').attr('x', 645).attr('y', legY(lv) + legY.bandwidth() - 2.5).attr('font-size', 10.5)
    .text(resistanceLabels[i]);
});
</script>
</body>
</html>
